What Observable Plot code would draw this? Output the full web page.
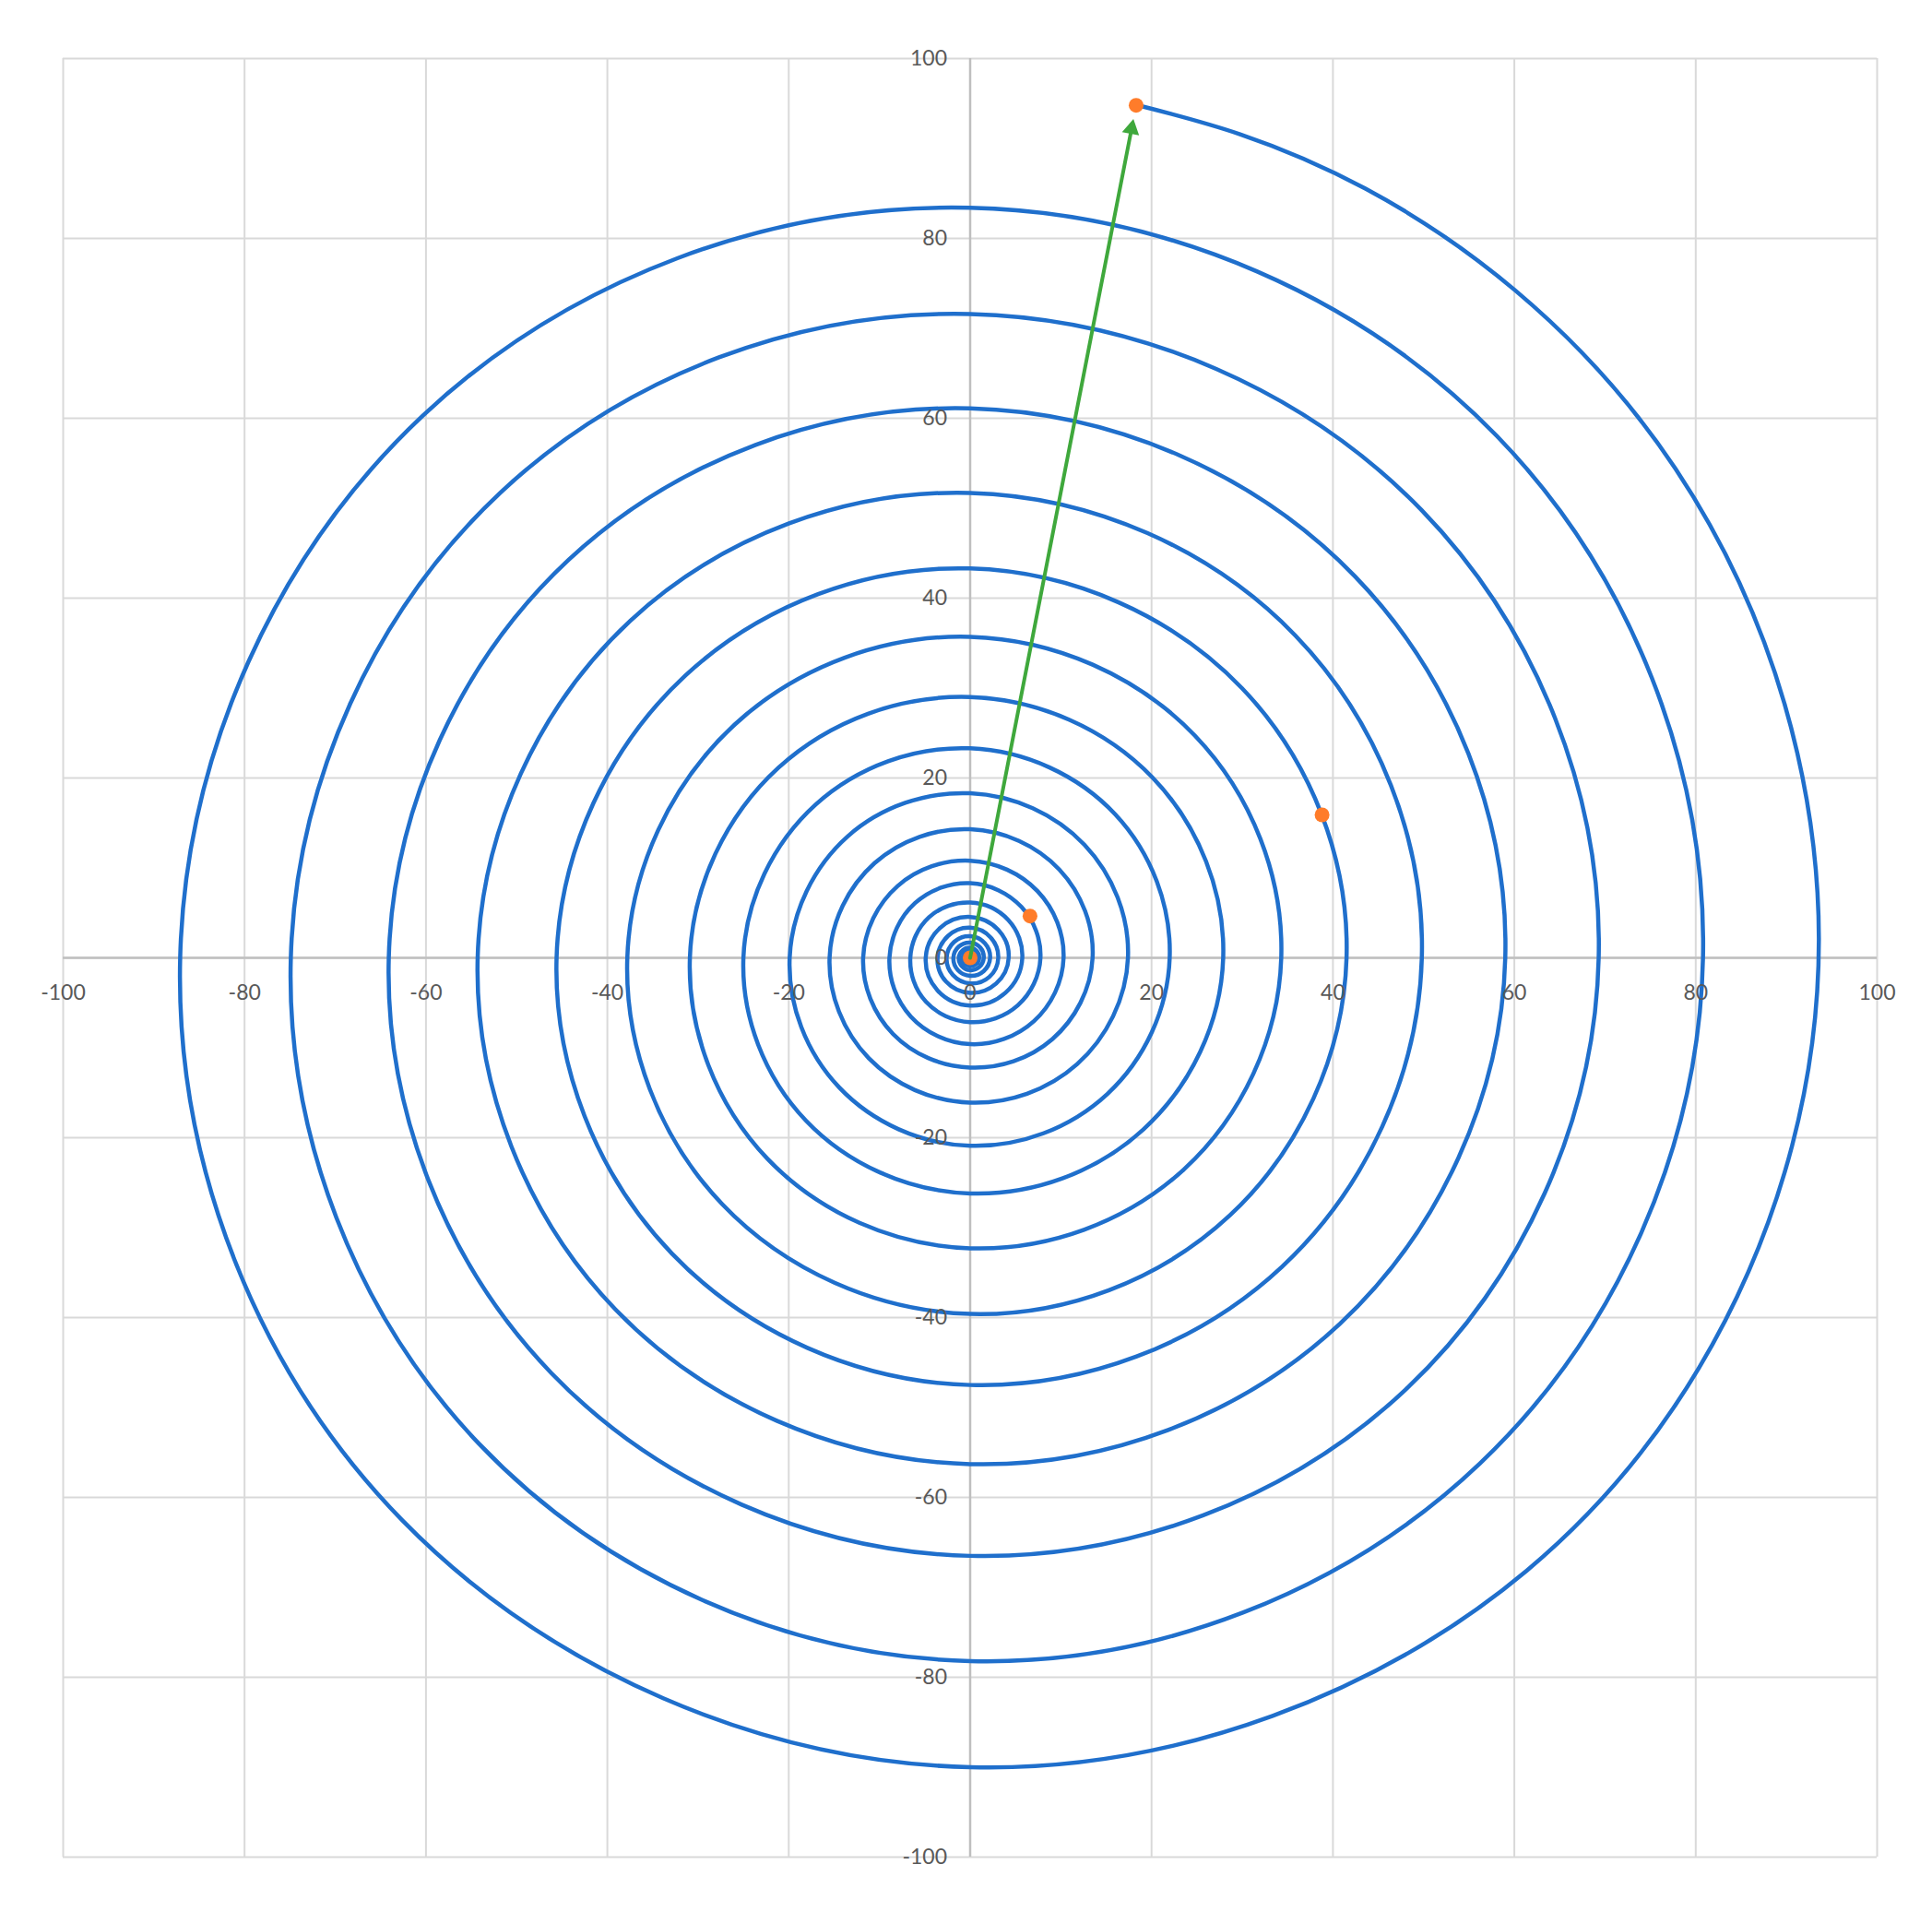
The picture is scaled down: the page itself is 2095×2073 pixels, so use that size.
<!DOCTYPE html>
<html>
<head>
<meta charset="utf-8">
<script src="https://cdn.jsdelivr.net/npm/d3@7"></script>
<script src="https://cdn.jsdelivr.net/npm/@observablehq/plot@0.6"></script>
<style>
  html, body { margin: 0; padding: 0; background: #ffffff; }
  #chart svg { display: block; }
</style>
</head>
<body>
<div id="chart"></div>
<script>
// Tick values for both axes
const xTicks = [-100, -80, -60, -40, -20, 0, 20, 40, 60, 80, 100];
const yTicks = [-100, -80, -60, -40, -20, 0, 20, 40, 60, 80, 100];

// Spiral (radius in axis units), going clockwise from its outer end.
// Outer tail: samples from the end point (79 deg) down to -90 deg.
const tailAngleDeg = [79, 72, 63, 51, 35, 14, -13, -48];
const tailRadius   = [96.6, 96.3, 96.0, 95.5, 94.9, 94.0, 93.0, 91.7];
// Then every 45 deg starting at -90 deg (-90, -135, 180, 135, 90, 45, 0, ...), down to the centre.
const mainStartDeg = -90;
const mainStepDeg = 45;
const mainRadius = [
  90.0, 88.5, 87.1, 85.3, 83.4, 82.1, 80.8, 79.5,
  78.2, 76.5, 74.9, 73.2, 71.6, 70.4, 69.3, 67.9,
  66.5, 65.3, 64.1, 62.6, 61.1, 60.0, 59.0, 57.6,
  56.3, 55.3, 54.3, 53.0, 51.7, 50.7, 49.8, 48.6,
  47.5, 46.5, 45.6, 44.4, 43.3, 42.4, 41.5, 40.5,
  39.6, 38.7, 37.8, 36.7, 35.7, 35.0, 34.3, 33.3,
  32.3, 31.6, 30.9, 29.9, 29.0, 28.4, 27.9, 27.0,
  26.2, 25.6, 25.0, 24.1, 23.3, 22.6, 22.0, 21.4,
  20.9, 20.4, 19.9, 19.1, 18.3, 17.8, 17.4, 16.7,
  16.1, 15.8, 15.5, 14.9, 14.3, 13.9, 13.5, 12.8,
  12.2, 12.0, 11.8, 11.3, 10.8, 10.5, 10.3, 9.95,
  9.6, 9.25, 8.9, 8.6, 8.3, 8.0, 7.75, 7.45,
  7.15, 6.9, 6.6, 6.4, 6.15, 5.95, 5.75, 5.5,
  5.3, 5.1, 4.9, 4.7, 4.55, 4.4, 4.25, 4.05,
  3.9, 3.75, 3.6, 3.45, 3.35, 3.2, 3.1, 3.0,
  2.85, 2.7, 2.6, 2.5, 2.4, 2.3, 2.2, 2.1,
  2.0, 1.92, 1.85, 1.77, 1.7, 1.6, 1.5, 1.43,
  1.37, 1.3, 1.25, 1.18, 1.12, 1.05, 1.0, 0.95,
  0.9, 0.85, 0.8, 0.75, 0.7, 0.65, 0.6, 0.56,
  0.52, 0.48, 0.45, 0.4, 0.37, 0.33, 0.3, 0.0
];

// Orange markers (x, y)
const markerX = [0, 6.6, 38.8, 18.3];
const markerY = [0, 4.65, 15.9, 94.8];

// Green arrow from origin to the outer end of the spiral
const arrowX1 = [0];
const arrowY1 = [0];
const arrowX2 = [18.3];
const arrowY2 = [94.8];

// Build tables for the library
const toXY = (r, deg) => {
  const a = deg * Math.PI / 180;
  return {x: r * Math.cos(a), y: r * Math.sin(a)};
};
const spiral = [
  ...tailRadius.map((r, i) => toXY(r, tailAngleDeg[i])),
  ...mainRadius.map((r, j) => toXY(r, mainStartDeg - mainStepDeg * j))
];
const markers = markerX.map((x, i) => ({x, y: markerY[i]}));
const arrows = arrowX1.map((x1, i) => ({x1, y1: arrowY1[i], x2: arrowX2[i], y2: arrowY2[i]}));

// screen angle of the arrow (clockwise from "up"), for the filled head
const headRotate = 11;

const chart = Plot.plot({
  width: 2095,
  height: 2073,
  marginLeft: 68,
  marginRight: 60,
  marginTop: 63,
  marginBottom: 60,
  x: {domain: [-100, 100], axis: null},
  y: {domain: [-100, 100], axis: null},
  style: {background: "#ffffff", fontFamily: "Lato, 'Open Sans', sans-serif", fontSize: "23px"},
  marks: [
    Plot.ruleX(xTicks, {stroke: "#d9d9d9", strokeWidth: 2}),
    Plot.ruleY(yTicks, {stroke: "#d9d9d9", strokeWidth: 2}),
    Plot.ruleX([0], {stroke: "#bfbfbf", strokeWidth: 2.5}),
    Plot.ruleY([0], {stroke: "#bfbfbf", strokeWidth: 2.5}),
    Plot.line(spiral, {x: "x", y: "y", curve: "natural", stroke: "#1f6fcc", strokeWidth: 4.5}),
    Plot.text(xTicks, {x: d => d, y: () => 0, text: d => String(d), dy: 38, fill: "#595959"}),
    Plot.text(yTicks, {x: () => 0, y: d => d, text: d => String(d), textAnchor: "end", dx: -25, fill: "#595959"}),
    Plot.dot(markers, {x: "x", y: "y", r: 8, fill: "#ff7c2a", stroke: "none"}),
    Plot.arrow(arrows, {x1: "x1", y1: "y1", x2: "x2", y2: "y2", stroke: "#3fa83c", strokeWidth: 4, headLength: 0, insetEnd: 22}),
    Plot.dot(arrows, {x: "x2", y: "y2", symbol: "triangle", r: 7, rotate: headRotate, dx: -5, dy: 25.5, fill: "#3fa83c", stroke: "none"})
  ]
});
document.getElementById("chart").appendChild(chart);
</script>
</body>
</html>
